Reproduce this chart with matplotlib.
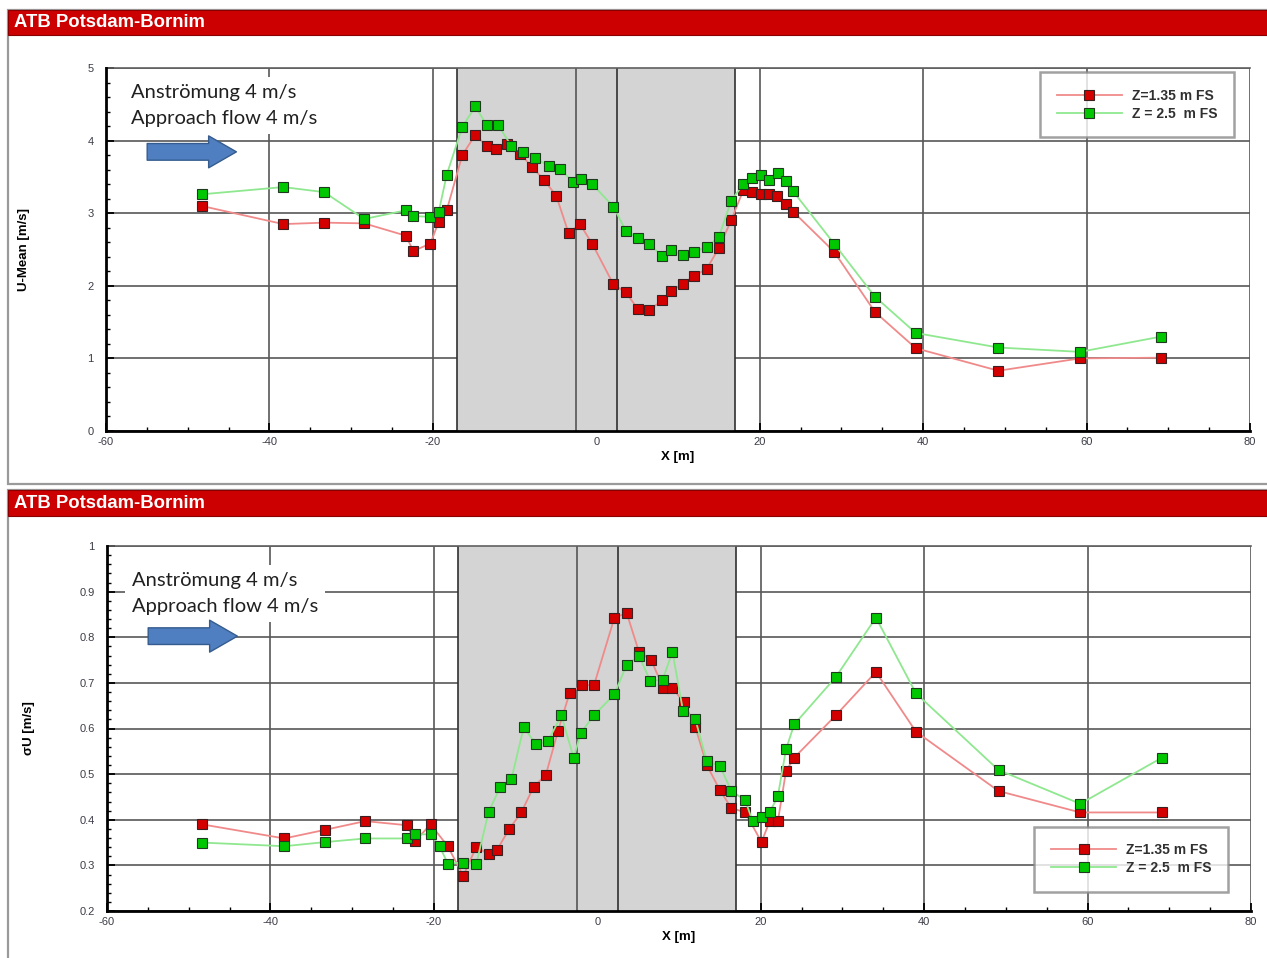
import matplotlib

matplotlib.use("Agg")
import matplotlib.pyplot as plt
from matplotlib.patches import Rectangle, FancyArrowPatch
from matplotlib.ticker import MultipleLocator, FuncFormatter

W, H = 1267, 958

# ---- data ----
top_x_red = [-48.3, -38.3, -33.3, -28.4, -23.3, -22.4, -20.3, -19.3, -18.3,
             -16.4, -14.8, -13.4, -12.3, -10.9, -9.3, -7.9, -6.4, -4.9, -3.4,
             -2.0, -0.5, 2.1, 3.6, 5.1, 6.5, 8.1, 9.2, 10.6, 12.0,
             13.5, 15.0, 16.5, 18.0, 19.1, 20.1, 21.1, 22.1, 23.2, 24.1,
             29.1, 34.1, 39.1, 49.2, 59.2, 69.1]
top_u_red = [3.10, 2.85, 2.87, 2.86, 2.69, 2.48, 2.58, 2.88, 3.04,
             3.80, 4.08, 3.92, 3.88, 3.96, 3.82, 3.64, 3.46, 3.24, 2.73,
             2.85, 2.58, 2.02, 1.91, 1.68, 1.67, 1.80, 1.93, 2.03, 2.14,
             2.23, 2.52, 2.90, 3.32, 3.29, 3.26, 3.26, 3.24, 3.13, 3.02,
             2.47, 1.64, 1.14, 0.83, 1.00, 1.01]
top_x_green = [-48.3, -38.3, -33.3, -28.4, -23.3, -22.4, -20.3, -19.3, -18.3,
               -16.4, -14.8, -13.4, -12.0, -10.4, -9.0, -7.5, -5.8, -4.4, -2.9,
               -1.9, -0.5, 2.1, 3.6, 5.1, 6.5, 8.1, 9.2, 10.6, 12.0,
               13.5, 15.0, 16.5, 18.0, 19.1, 20.1, 21.1, 22.2, 23.2, 24.1,
               29.1, 34.1, 39.1, 49.2, 59.2, 69.1]
top_u_green = [3.26, 3.36, 3.29, 2.92, 3.04, 2.96, 2.95, 3.01, 3.53,
               4.19, 4.47, 4.21, 4.21, 3.93, 3.84, 3.76, 3.65, 3.61, 3.43,
               3.47, 3.40, 3.09, 2.76, 2.66, 2.57, 2.41, 2.49, 2.42, 2.46,
               2.54, 2.67, 3.17, 3.40, 3.49, 3.53, 3.46, 3.55, 3.44, 3.30,
               2.58, 1.85, 1.35, 1.15, 1.09, 1.30]

bot_x_red = [-48.4, -38.3, -33.3, -28.4, -23.3, -22.3, -20.4, -18.3, -16.4, -14.8,
             -13.3, -12.3, -10.8, -9.3, -7.8, -6.3, -4.8, -3.4, -1.9, -0.4,
             2.1, 3.6, 5.1, 6.6, 8.1, 9.2, 10.6, 12.0, 13.4, 15.0,
             16.4, 18.1, 20.1, 21.1, 22.1, 23.1, 24.1, 29.2, 34.1, 39.0,
             49.1, 59.1, 69.1]
bot_s_red = [0.390, 0.359, 0.378, 0.397, 0.388, 0.353, 0.390, 0.342, 0.277, 0.341,
             0.324, 0.333, 0.379, 0.416, 0.472, 0.498, 0.595, 0.677, 0.695, 0.695,
             0.843, 0.853, 0.768, 0.750, 0.688, 0.688, 0.658, 0.603, 0.520, 0.465,
             0.426, 0.416, 0.351, 0.397, 0.397, 0.507, 0.536, 0.629, 0.724, 0.593,
             0.463, 0.416, 0.416]
bot_x_green = [-48.4, -38.3, -33.3, -28.4, -23.3, -22.3, -20.4, -19.3, -18.3, -16.4,
               -14.8, -13.3, -11.9, -10.5, -9.0, -7.5, -6.0, -4.4, -2.9, -2.0,
               -0.4, 2.1, 3.6, 5.1, 6.5, 8.0, 9.2, 10.5, 12.0, 13.4,
               15.0, 16.4, 18.1, 19.0, 20.1, 21.1, 22.1, 23.1, 24.1, 29.2,
               34.1, 39.0, 49.1, 59.1, 69.1]
bot_s_green = [0.350, 0.342, 0.351, 0.359, 0.359, 0.368, 0.368, 0.342, 0.304, 0.306,
               0.304, 0.417, 0.471, 0.490, 0.603, 0.565, 0.573, 0.629, 0.536, 0.591,
               0.629, 0.675, 0.740, 0.759, 0.704, 0.707, 0.768, 0.638, 0.620, 0.528,
               0.518, 0.463, 0.443, 0.397, 0.406, 0.416, 0.452, 0.555, 0.609, 0.713,
               0.843, 0.677, 0.509, 0.435, 0.536]

series_labels = ["Z=1.35 m FS", "Z = 2.5  m FS"]
header_text = "ATB Potsdam-Bornim"
note_text = "Anströmung 4 m/s\nApproach flow 4 m/s"

RED = "#d40000"
GREEN = "#00c800"
LINE_RED = "#f08a8a"
LINE_GREEN = "#8fe88f"
SHADE = "#d4d4d4"
GRID = "#585858"
TICK_COLOR = "#3c3c48"

plt.rcParams["font.family"] = ["Liberation Sans", "DejaVu Sans"]
plt.rcParams["axes.unicode_minus"] = False

fig = plt.figure(figsize=(W / 100, H / 100), dpi=100)


def px_rect(x0, y0, x1, y1, **kw):
    fig.add_artist(Rectangle((x0 / W, 1 - y1 / H), (x1 - x0) / W, (y1 - y0) / H,
                             transform=fig.transFigure, zorder=-10, **kw))


def frame(top, header_bottom, bottom):
    px_rect(8, top, W + 5, bottom, facecolor="white", edgecolor="#9a9a9a", lw=1.6)
    px_rect(8, top, W + 5, header_bottom, facecolor="#cc0000", edgecolor="#8a0000", lw=0.8)
    fig.text(14 / W, 1 - (top + header_bottom) / 2 / H, header_text, color="white",
             fontsize=13.3, fontweight="bold", va="center", ha="left")


def panel(rect, xr, yr, xg, yg, ylim, ymaj, ymin, ylabel, loc, anchor,
          note_y, arrow_y, label_pos):
    ax = fig.add_axes(rect)
    ax.set_xlim(-60, 80)
    ax.set_ylim(*ylim)
    ax.set_axisbelow(True)
    ax.grid(True, which="major", color=GRID, lw=1.2)
    ax.axvspan(-17, 17, color=SHADE, zorder=1, lw=0)
    for xv, c in ((-17, "#303030"), (-2.5, "#555555"), (2.5, "#303030"), (17, "#303030")):
        ax.axvline(xv, color=c, lw=1.2, zorder=1.5)

    ax.plot(xr, yr, color=LINE_RED, lw=1.3, marker="s", ms=7.2, mfc=RED,
            mec="#3a2020", mew=0.8, zorder=3, label=series_labels[0])
    ax.plot(xg, yg, color=LINE_GREEN, lw=1.3, marker="s", ms=7.2, mfc=GREEN,
            mec="#203a20", mew=0.8, zorder=3, label=series_labels[1])

    ax.xaxis.set_major_locator(MultipleLocator(20))
    ax.xaxis.set_minor_locator(MultipleLocator(5))
    ax.yaxis.set_major_locator(MultipleLocator(ymaj))
    ax.yaxis.set_minor_locator(MultipleLocator(ymin))
    ax.yaxis.set_major_formatter(FuncFormatter(lambda v, p: f"{v:g}"))
    ax.tick_params(which="both", direction="in", color="black", labelsize=8,
                   labelcolor=TICK_COLOR, top=False, right=False)
    ax.tick_params(which="major", length=6, width=1.3)
    ax.tick_params(which="minor", length=3, width=1.0)
    ax.tick_params(axis="y", pad=9)
    ax.tick_params(axis="x", pad=4)
    for s in ("left", "bottom"):
        ax.spines[s].set_linewidth(2)
        ax.spines[s].set_zorder(4)
    ax.spines["right"].set_visible(False)
    ax.spines["top"].set_color("#606060")
    ax.spines["top"].set_linewidth(1.2)

    ax.set_xlabel("X [m]", fontsize=9.5, fontweight="bold")
    ax.set_ylabel(ylabel, fontsize=9.5, fontweight="bold")
    ax.xaxis.set_label_coords(0.5, label_pos[0])
    ax.yaxis.set_label_coords(label_pos[1], 0.5)

    ax.text(0.022, note_y, note_text, transform=ax.transAxes, ha="left", va="top",
            fontsize=14.5, family=["Lato", "DejaVu Sans"], color="#202020",
            linespacing=1.7, zorder=5,
            bbox=dict(facecolor="white", edgecolor="none", pad=5))
    arrow = FancyArrowPatch((0.036, arrow_y), (0.114, arrow_y), transform=ax.transAxes,
                            arrowstyle="simple,head_length=20,head_width=23,tail_width=12",
                            mutation_scale=1, shrinkA=0, shrinkB=0,
                            facecolor="#4f7fc0", edgecolor="#355c8e", lw=1, zorder=5)
    ax.add_patch(arrow)

    leg = ax.legend(loc=loc, bbox_to_anchor=anchor, borderaxespad=0,
                    handlelength=4.7, frameon=True, fancybox=False,
                    borderpad=1.2, handletextpad=0.7, labelspacing=0.3,
                    prop=dict(weight="bold", size=10))
    leg.get_frame().set_edgecolor("#8a8a8a")
    leg.get_frame().set_linewidth(1.8)
    leg.set_zorder(6)
    for t in leg.get_texts():
        t.set_color("#303030")
    return ax


frame(10, 35, 484)
frame(490, 516, H + 5)

panel([106 / W, 1 - 431 / H, 1144 / W, 363 / H],
      top_x_red, top_u_red, top_x_green, top_u_green,
      (0, 5), 1, 0.2, "U-Mean [m/s]", "upper right", (0.986, 0.989),
      0.957, 0.769, (-0.056, -0.066))
panel([107 / W, 1 - 911 / H, 1144 / W, 365 / H],
      bot_x_red, bot_s_red, bot_x_green, bot_s_green,
      (0.2, 1.0), 0.1, 0.02, "σU [m/s]", "lower right", (0.980, 0.052),
      0.93, 0.753, (-0.055, -0.063))

fig.savefig("out.png", dpi=100)
